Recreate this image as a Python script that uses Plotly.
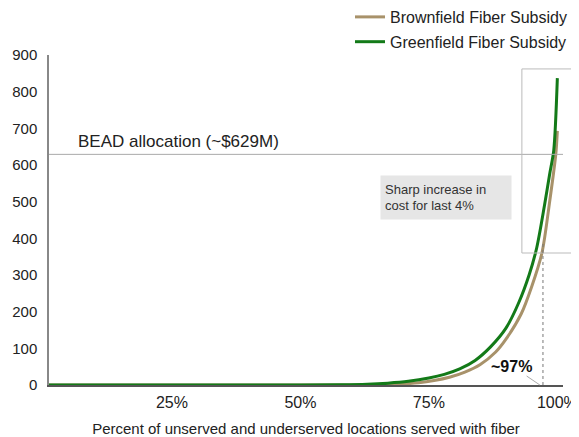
import plotly.graph_objects as go

# ---- data ----
green_x = [0, 50, 58, 63, 67, 71, 75, 78, 81, 84, 87, 90, 92.5, 94.5, 96, 97.5, 98.5, 99.3, 100]
green_y = [0, 0, 0.5, 2, 5, 10, 19, 29, 44, 67, 104, 155, 225, 300, 375, 490, 575, 640, 837]

brown_x = [0, 60, 65, 70, 73, 76, 79, 82, 85, 88, 90, 93, 95, 97, 98.5, 99.7, 100]
brown_y = [0, 0, 0.5, 3, 6, 12, 21, 35, 56, 90, 125, 195, 268, 360, 500, 630, 693]

x_tick_vals = [25, 50, 75, 100]
x_tick_text = ["25%", "50%", "75%", "100%"]
y_tick_vals = [0, 100, 200, 300, 400, 500, 600, 700, 800, 900]

bead_allocation = 629
threshold_pct = 97.2
threshold_top = 390

GREEN = "#137a18"
BROWN = "#a8926a"
FONT = "Liberation Sans, Arial, sans-serif"

fig = go.Figure()
fig.add_trace(go.Scatter(x=brown_x, y=brown_y, mode="lines", name="Brownfield Fiber Subsidy",
                         line=dict(color=BROWN, width=3, shape="spline", smoothing=0.8),
                         legendgroup="b"))
fig.add_trace(go.Scatter(x=green_x, y=green_y, mode="lines", name="Greenfield Fiber Subsidy",
                         line=dict(color=GREEN, width=3, shape="spline", smoothing=0.8),
                         legendgroup="g"))

# BEAD line
fig.add_shape(type="line", xref="paper", yref="y", x0=0, x1=1, y0=bead_allocation, y1=bead_allocation,
              line=dict(color="#aaaaaa", width=1))
# highlight box
fig.add_shape(type="rect", xref="paper", yref="y", x0=0.920, x1=1.04, y0=360, y1=862,
              line=dict(color="#bbbbbb", width=1))
# dotted threshold line
fig.add_shape(type="line", xref="x", yref="y", x0=threshold_pct, x1=threshold_pct, y0=0, y1=threshold_top,
              line=dict(color="#777777", width=1, dash="dot"))

fig.add_annotation(text="BEAD allocation (~$629M)", xref="paper", yref="y", x=0.0525, y=bead_allocation,
                   xanchor="left", yanchor="bottom", yshift=1, showarrow=False,
                   font=dict(family=FONT, size=17, color="#222222"))
fig.add_annotation(text="Sharp increase in<br>cost for last 4%", xref="paper", yref="y", x=0.644, y=573,
                   xanchor="left", yanchor="top", showarrow=False, align="left",
                   bgcolor="#e6e6e6", width=122, height=35, borderpad=4,
                   font=dict(family=FONT, size=13, color="#333333"))
fig.add_annotation(text="<b>~97%</b>", xref="x", yref="y", x=96.6, y=0,
                   ax=-28, ay=-19, showarrow=True, arrowhead=0, arrowwidth=1, arrowcolor="#aaaaaa",
                   font=dict(family=FONT, size=16, color="#111111"))

fig.update_layout(
    width=571, height=429,
    margin=dict(l=41, r=16, t=47, b=52, autoexpand=False),
    paper_bgcolor="white", plot_bgcolor="white",
    font=dict(family=FONT, size=15, color="#222222"),
    showlegend=True,
    legend=dict(x=0.5856, xanchor="left", y=1.1667, yanchor="top", traceorder="grouped",
                tracegroupgap=1, font=dict(family=FONT, size=16, color="#222222"),
                bgcolor="rgba(0,0,0,0)", itemwidth=30),
    xaxis=dict(range=[1.07, 101.1], tickvals=x_tick_vals, ticktext=x_tick_text, showgrid=False,
               zeroline=False, showline=True, linecolor="#555555", linewidth=1.5, ticks="",
               ticklabelstandoff=2,
               title=dict(text="Percent of unserved and underserved locations served with fiber",
                          font=dict(family=FONT, size=15, color="#222222"), standoff=14),
               tickfont=dict(family=FONT, size=16, color="#222222")),
    yaxis=dict(range=[0, 900], tickvals=y_tick_vals, showgrid=False, zeroline=False,
               showline=True, linecolor="#888888", linewidth=1.5, ticks="",
               ticklabelstandoff=7,
               tickfont=dict(family=FONT, size=15, color="#222222")),
)

fig.write_html("out.html")
